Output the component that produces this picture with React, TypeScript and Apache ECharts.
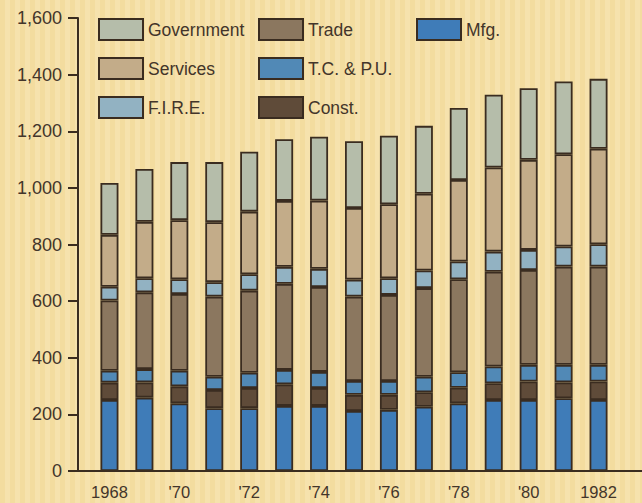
import React, { useEffect, useRef } from "react";
import * as echarts from "echarts";

const years = ["1968","1969","1970","1971","1972","1973","1974","1975","1976","1977","1978","1979","1980","1981","1982"];
const yTicks = { min: 0, max: 1600, interval: 200 };

const mfg = [251, 259, 239, 222, 222, 230, 230, 212, 216, 227, 239, 251, 251, 257, 251];
const constr = [61, 54, 60, 64, 71, 76, 63, 57, 53, 51, 55, 59, 65, 56, 65];
const tcpu = [42, 47, 55, 47, 54, 51, 57, 49, 49, 55, 55, 59, 59, 62, 59];
const trade = [248, 271, 271, 283, 290, 304, 300, 298, 304, 313, 328, 335, 335, 347, 347];
const fire = [49, 50, 52, 51, 58, 60, 64, 60, 59, 62, 63, 71, 71, 71, 79];
const services = [183, 199, 209, 212, 221, 233, 241, 253, 261, 271, 288, 297, 318, 326, 337];
const government = [183, 187, 205, 212, 212, 218, 226, 236, 242, 240, 254, 257, 253, 257, 247];

const INK = "#3a2c20";
const TEXT = "#43352a";
const FONT = "Liberation Sans, Arial, sans-serif";

const seriesDefs = [
  { name: "Mfg.", data: mfg, color: "#3f7cb8" },
  { name: "Const.", data: constr, color: "#5f4b39" },
  { name: "T.C. & P.U.", data: tcpu, color: "#5189b6" },
  { name: "Trade", data: trade, color: "#8b775f" },
  { name: "F.I.R.E.", data: fire, color: "#92b2c2" },
  { name: "Services", data: services, color: "#c3ac89" },
  { name: "Government", data: government, color: "#b5bdaa" },
];

export default function App() {
  const ref = useRef<HTMLDivElement>(null);
  useEffect(() => {
    document.body.style.margin = "0";
    const chart = echarts.init(ref.current!, null, { renderer: "svg" });
    const legendBase = {
      orient: "vertical" as const,
      top: 18,
      padding: 0,
      itemWidth: 44,
      itemHeight: 21,
      itemGap: 16,
      icon: "rect",
      selectedMode: false,
      textStyle: { color: TEXT, fontSize: 17.5, fontFamily: FONT, padding: [0, 0, 0, 0] },
    };
    chart.setOption({
      animation: false,
      backgroundColor: "transparent",
      grid: { left: 92, right: 26, top: 18, bottom: 32, containLabel: false },
      legend: [
        { ...legendBase, left: 98, data: ["Government", "Services", "F.I.R.E."] },
        { ...legendBase, left: 258, data: ["Trade", "T.C. & P.U.", "Const."] },
        { ...legendBase, left: 416, data: ["Mfg."] },
      ],
      xAxis: {
        type: "category",
        data: years,
        boundaryGap: true,
        axisLine: { show: false },
        axisTick: { show: false },
        axisLabel: {
          interval: 0,
          margin: 12,
          color: TEXT,
          fontSize: 16.5,
          fontFamily: FONT,
          formatter: (v: string, i: number) => {
            if (i % 2 !== 0) return "";
            if (i === 0 || i === years.length - 1) return v;
            return "'" + v.slice(2);
          },
        },
      },
      yAxis: {
        type: "value",
        min: yTicks.min,
        max: yTicks.max,
        interval: yTicks.interval,
        offset: 14,
        splitLine: { show: false },
        axisLine: { show: true, lineStyle: { color: INK, width: 2 } },
        axisTick: { show: true, inside: false, length: 10, lineStyle: { color: INK, width: 2 } },
        axisLabel: {
          margin: 16,
          color: TEXT,
          fontSize: 18,
          fontFamily: FONT,
          formatter: (v: number) => v.toLocaleString("en-US"),
        },
      },
      graphic: [
        {
          type: "line",
          shape: { x1: 68, y1: 471, x2: 642, y2: 471 },
          style: { stroke: INK, lineWidth: 2 },
          silent: true,
        },
      ],
      series: seriesDefs.map((s) => ({
        name: s.name,
        type: "bar",
        stack: "total",
        barWidth: 18,
        data: s.data,
        itemStyle: { color: s.color, borderColor: INK, borderWidth: 1.8 },
      })),
    });
    return () => chart.dispose();
  }, []);
  return (
    <div
      style={{
        position: "absolute",
        left: 0,
        top: 0,
        width: 642,
        height: 503,
        background:
          "repeating-linear-gradient(90deg, #f3dc9f 0px, #f3dc9f 5px, #f6e2ad 5px, #f6e2ad 10px)",
      }}
    >
      <div ref={ref} style={{ width: 642, height: 503 }} />
    </div>
  );
}
